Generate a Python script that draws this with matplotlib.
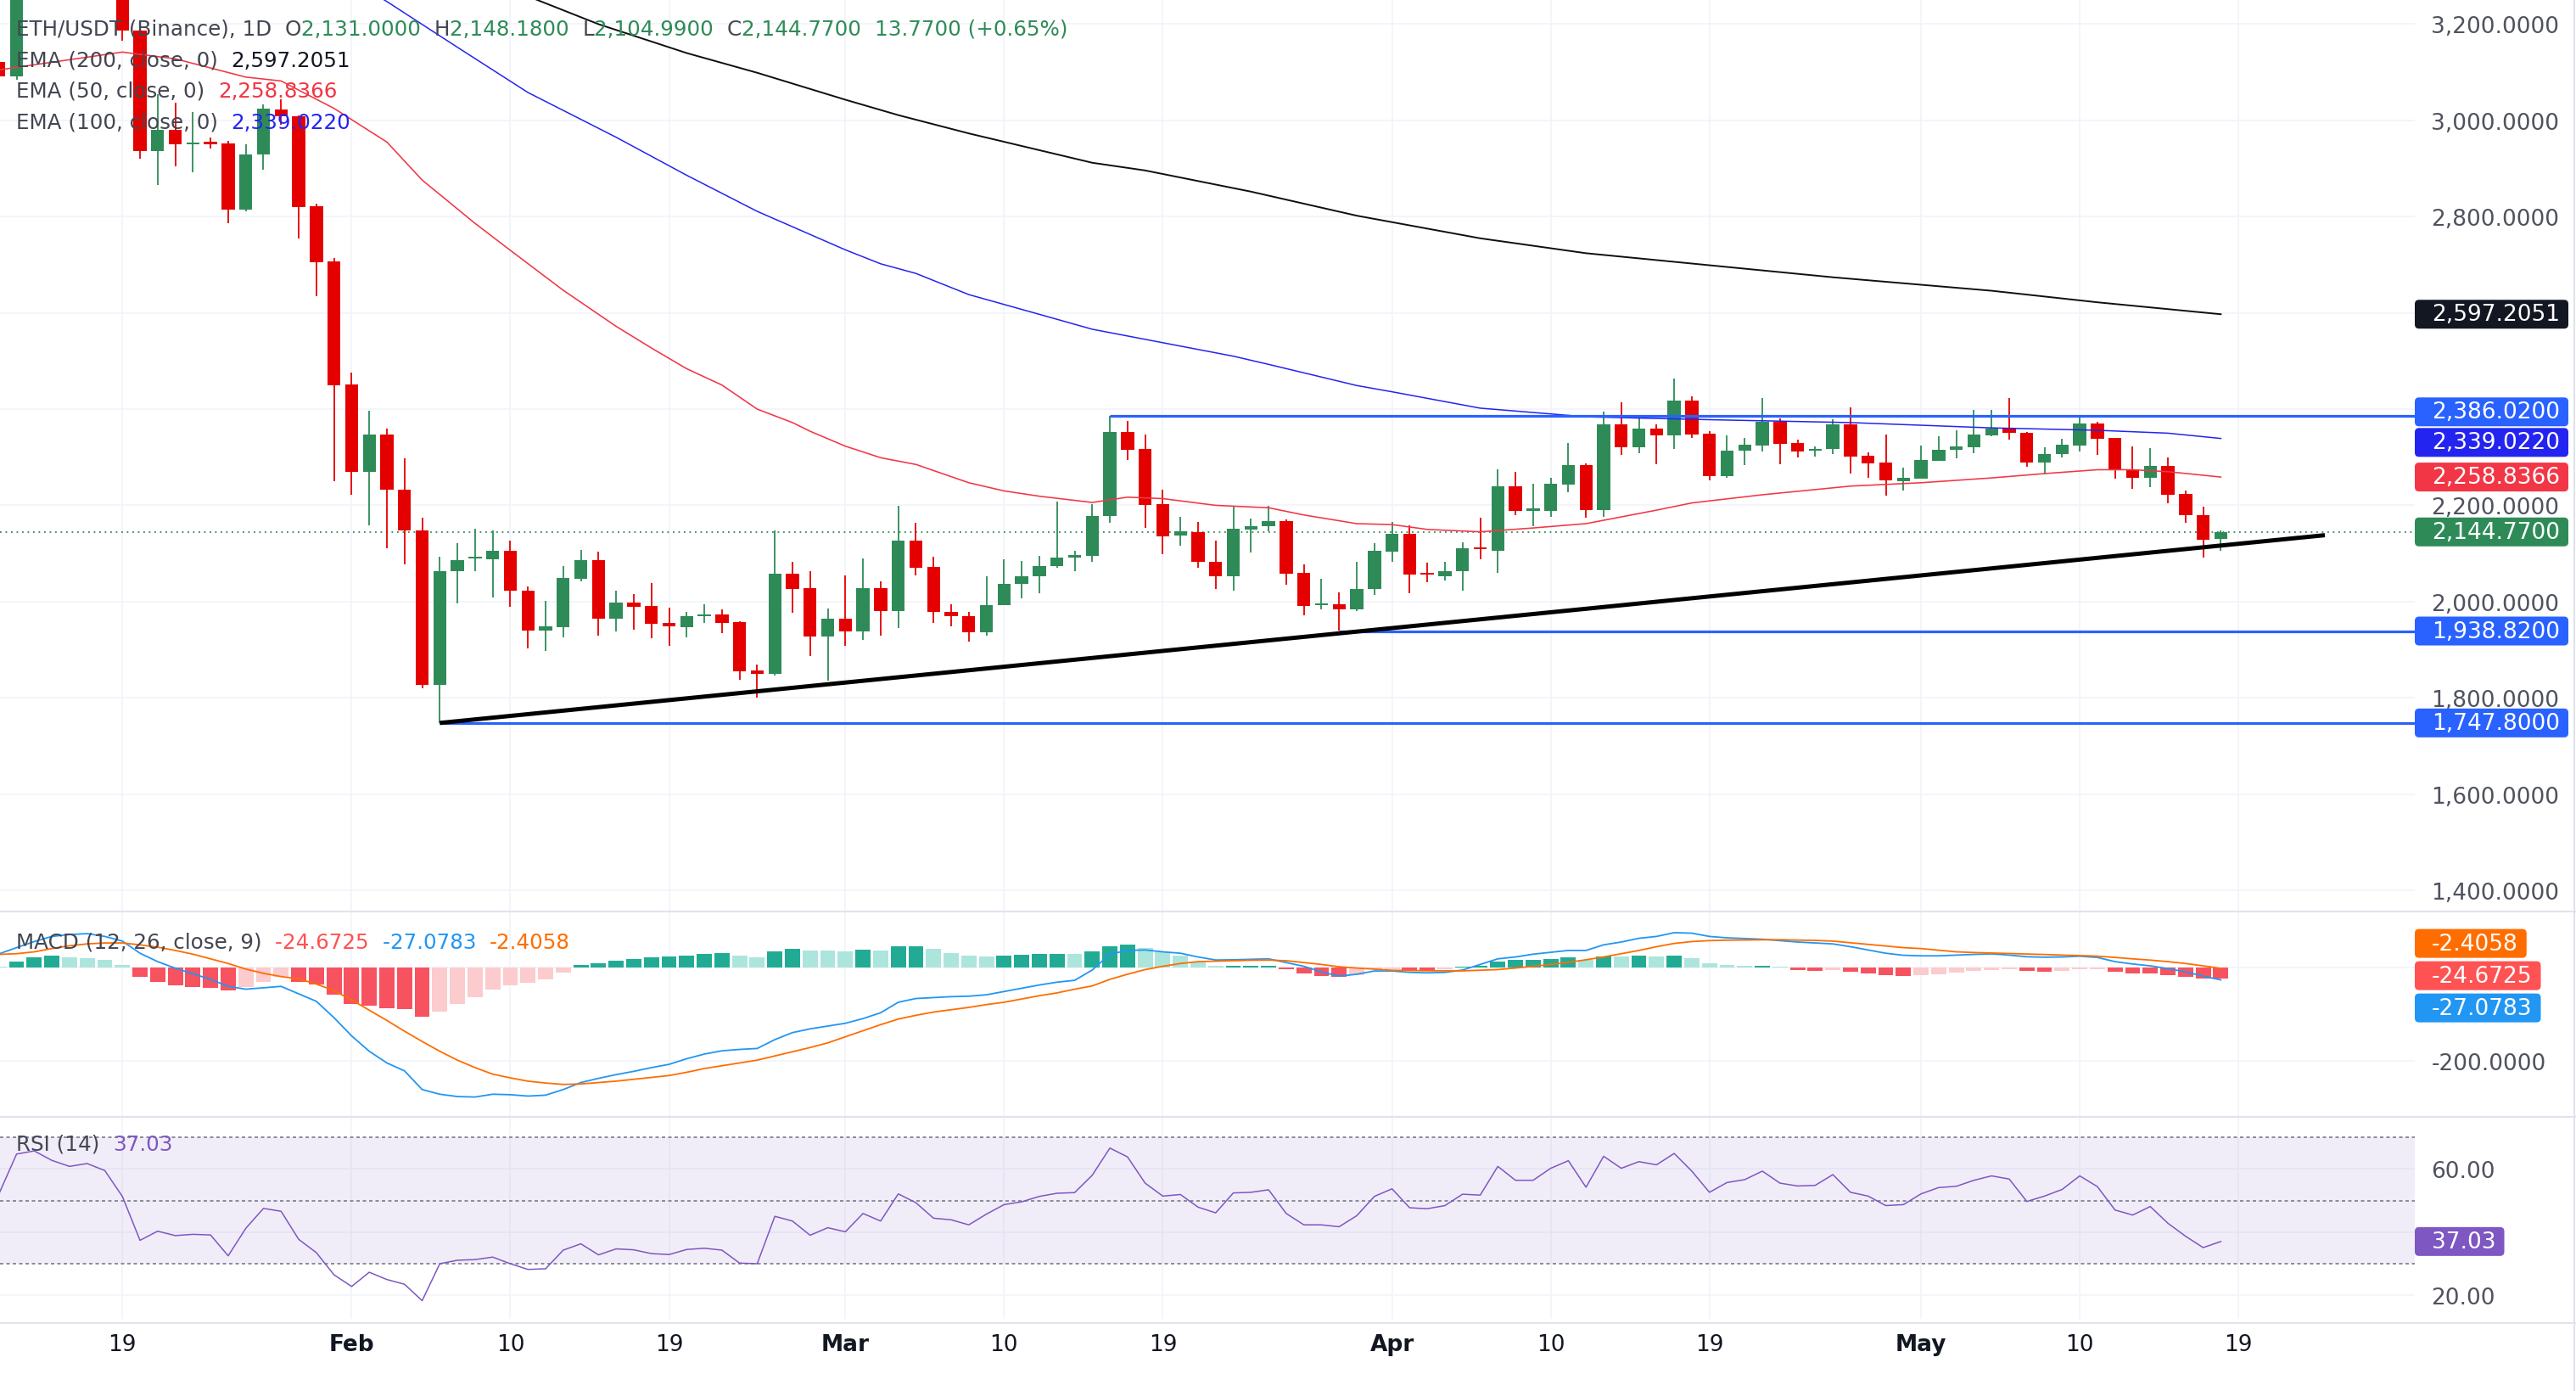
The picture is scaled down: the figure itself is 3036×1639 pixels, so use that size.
import numpy as np
import matplotlib
matplotlib.use("Agg")
import matplotlib.pyplot as plt
import matplotlib.dates as mdates
from matplotlib.patches import FancyBboxPatch
from matplotlib.lines import Line2D
from matplotlib.transforms import IdentityTransform
from matplotlib.ticker import FuncFormatter

# ---------------- data (daily, first candle 2026-01-12) ----------------
start_date = np.datetime64("2026-01-12")

opens = [3121, 3092, 3290, 3335, 3310, 3290, 3305, 3300, 3186, 2936,
         2981, 2950, 2956, 2952, 2815, 2929, 3023, 3009, 2822, 2707,
         2451, 2269, 2347, 2233, 2148, 1827, 2063, 2089, 2088, 2105,
         2023, 1940, 1947, 2048, 2086, 1965, 1998, 1991, 1955, 1947,
         1969, 1973, 1957, 1856, 1850, 2058, 2028, 1928, 1964, 1938,
         2028, 1981, 2127, 2072, 1978, 1969, 1937, 1992, 2036, 2052,
         2073, 2091, 2095, 2177, 2352, 2317, 2202, 2137, 2145, 2083,
         2053, 2150, 2156, 2168, 2059, 1992, 1994, 1983, 2026, 2103,
         2140, 2060, 2053, 2063, 2112, 2105, 2240, 2189, 2189, 2243,
         2284, 2190, 2368, 2321, 2359, 2346, 2418, 2349, 2261, 2313,
         2325, 2374, 2330, 2313, 2318, 2368, 2303, 2289, 2251, 2255,
         2293, 2316, 2321, 2346, 2359, 2350, 2289, 2306, 2325, 2370,
         2340, 2275, 2258, 2282, 2224, 2180, 2131]
highs = [3135, 3330, 3370, 3360, 3330, 3340, 3325, 3315, 3192, 3054,
         3036, 3017, 2965, 2958, 2950, 3033, 3044, 3011, 2827, 2714,
         2476, 2397, 2359, 2297, 2174, 2093, 2121, 2151, 2148, 2126,
         2032, 2001, 2074, 2107, 2103, 2023, 2015, 2039, 1987, 1979,
         1995, 1984, 1959, 1869, 2148, 2082, 2063, 1986, 2055, 2090,
         2042, 2199, 2163, 2093, 1995, 1979, 2053, 2088, 2085, 2095,
         2207, 2105, 2202, 2386, 2375, 2348, 2233, 2176, 2166, 2127,
         2198, 2173, 2199, 2171, 2077, 2047, 2019, 2083, 2122, 2166,
         2158, 2080, 2083, 2123, 2175, 2274, 2269, 2244, 2257, 2330,
         2287, 2395, 2414, 2384, 2368, 2464, 2427, 2354, 2346, 2340,
         2423, 2381, 2337, 2323, 2379, 2403, 2310, 2347, 2278, 2324,
         2343, 2356, 2398, 2398, 2423, 2352, 2321, 2338, 2383, 2374,
         2340, 2322, 2319, 2299, 2231, 2198, 2148.18]
lows = [3080, 3085, 3265, 3280, 3270, 3275, 3280, 3166, 2920, 2865,
        2905, 2892, 2942, 2786, 2811, 2898, 2991, 2754, 2634, 2250,
        2222, 2158, 2110, 2078, 1820, 1748, 1997, 2064, 2009, 1989,
        1903, 1898, 1926, 2042, 1929, 1938, 1942, 1924, 1908, 1925,
        1956, 1935, 1838, 1801, 1847, 1976, 1887, 1836, 1908, 1921,
        1930, 1945, 2055, 1955, 1949, 1916, 1930, 1992, 2006, 2017,
        2071, 2063, 2083, 2164, 2294, 2154, 2099, 2117, 2071, 2027,
        2023, 2102, 2146, 2035, 1972, 1984, 1939, 1981, 2013, 2083,
        2017, 2041, 2044, 2022, 2088, 2059, 2180, 2157, 2176, 2228,
        2175, 2176, 2304, 2308, 2286, 2318, 2340, 2252, 2258, 2284,
        2312, 2286, 2299, 2301, 2307, 2266, 2258, 2221, 2231, 2255,
        2293, 2298, 2309, 2343, 2337, 2280, 2265, 2299, 2312, 2304,
        2255, 2235, 2238, 2205, 2163, 2092, 2104.99]
closes = [3092, 3290, 3335, 3310, 3290, 3305, 3300, 3186, 2936, 2981,
          2950, 2953, 2951, 2815, 2929, 3024, 3009, 2820, 2705, 2449,
          2269, 2347, 2232, 2148, 1827, 2064, 2086, 2093, 2105, 2022,
          1940, 1948, 2049, 2086, 1965, 1998, 1990, 1954, 1948, 1969,
          1973, 1956, 1855, 1850, 2058, 2027, 1928, 1964, 1938, 2028,
          1981, 2127, 2071, 1978, 1969, 1937, 1992, 2036, 2052, 2073,
          2091, 2096, 2178, 2352, 2316, 2201, 2136, 2146, 2083, 2053,
          2151, 2156, 2168, 2058, 1991, 1996, 1983, 2026, 2105, 2140,
          2057, 2056, 2064, 2110, 2109, 2240, 2189, 2192, 2245, 2284,
          2190, 2368, 2321, 2359, 2346, 2418, 2348, 2261, 2313, 2326,
          2374, 2328, 2312, 2318, 2368, 2302, 2288, 2252, 2257, 2294,
          2316, 2322, 2347, 2359, 2350, 2289, 2306, 2326, 2370, 2339,
          2274, 2258, 2282, 2222, 2179, 2129, 2144.77]

# moving averages, read at sample days (day index from first candle)
ema50_idx = [0, 7, 10, 14, 16, 19, 22, 24, 27, 29, 32, 35, 37, 39, 41, 43, 45, 46, 48, 50,
             52, 55, 57, 59, 62, 64, 66, 69, 72, 74, 77, 79, 81, 84, 87, 90, 94, 96, 100, 105,
             109, 113, 116, 119, 121, 123, 126]
ema50_val = [3105, 3142, 3128, 3090, 3082, 3025, 2955, 2876, 2786, 2730, 2647, 2572, 2527, 2484,
             2450, 2400, 2372, 2354, 2323, 2299, 2285, 2247, 2230, 2219, 2206, 2217, 2214, 2200,
             2195, 2180, 2162, 2160, 2150, 2145, 2153, 2162, 2190, 2205, 2222, 2240, 2247, 2257,
             2266, 2274, 2274, 2270, 2258.84]
ema100_idx = [17, 22, 26, 30, 35, 39, 43, 48, 50, 52, 55, 59, 62, 65, 70, 72, 77, 79, 84, 90,
              97, 105, 113, 119, 123, 126]
ema100_val = [3360, 3247, 3152, 3058, 2965, 2886, 2811, 2731, 2702, 2682, 2638, 2597, 2566, 2545,
              2510, 2493, 2449, 2436, 2402, 2384, 2378, 2372, 2361, 2356, 2350, 2339.02]
ema200_idx = [25, 30, 34, 39, 43, 48, 51, 55, 62, 65, 71, 77, 84, 90, 97, 104, 113, 119, 126]
ema200_val = [3335, 3258, 3200, 3140, 3099, 3043, 3011, 2973, 2912, 2896, 2852, 2802, 2755, 2724,
              2699, 2674, 2646, 2622, 2597.21]

# drawings: support levels (value, first day index) and rising trend line
level_val = [2386.02, 1938.82, 1747.80]
level_idx = [63, 76, 25]
trend_idx = [25, 131.9]
trend_val = [1747.8, 2138.0]

# MACD (12, 26, 9), daily values from day index -1
macd_line = [22, 28.6, 42, 55, 66, 70, 72, 66, 56, 30, 12, -2, -14, -26, -41, -47, -44, -41, -57, -73,
             -108, -147, -180, -205, -222, -262, -272, -277, -278, -272, -273, -276, -274, -262, -247,
             -238, -230, -223, -215, -208, -196, -186, -179, -176, -174, -155, -140, -132, -126, -120,
             -110, -97.5, -75, -67, -65, -63, -62, -59, -52, -45, -38, -32, -28, -6, 28, 36, 37, 33, 30,
             22, 15.5, 16, 17, 18, 10, 2, -10, -19, -15, -8, -8, -11, -12, -11, -6, 6, 18, 22, 28, 32,
             36, 36, 48, 54, 62, 66, 74, 73, 66, 63, 61.5, 60, 57, 54, 52, 50, 44, 37, 30, 25.6, 24.5,
             24.4, 26, 27.5, 28.6, 26, 22.5, 21.5, 22, 23.7, 21, 12, 7, 3, -3, -10, -19, -27.0783]
macd_signal = [27, 27.6, 29, 33, 40, 46, 50, 52, 52, 48, 43, 36, 28, 18, 8, -4, -13, -20, -25, -36,
               -50, -70, -92, -114, -137, -159, -180, -199, -215, -229, -237, -244, -248, -251, -250,
               -247, -244, -240, -236, -232, -225, -217, -211, -205, -199, -190, -181, -172, -162, -149,
               -136, -123, -111, -103, -96, -91, -86, -80, -75, -68, -61, -55, -47, -40, -26, -15, -5,
               2, 8, 12, 13, 14, 15, 15.3, 14, 10, 6, 1, -1.7, -4, -6.5, -7, -7.5, -7.7, -7.8, -6.5,
               -5, -1.7, 2, 6, 10.4, 16, 22, 29, 36, 44, 51, 55, 57, 58, 58.5, 58.8, 58.9, 58.3, 57.5,
               55.9, 52.5, 49, 45.5, 42, 40, 36.5, 33, 31.5, 30.5, 29.5, 28.6, 27.3, 26, 25, 23.7, 21,
               18, 15.3, 12, 8, 3, -2.4058]
macd_hist = [6, 1, 13, 22, 24, 21, 19, 15, 5, -20,
             -31, -38, -42, -44, -49, -43, -31, -21, -32, -37,
             -58, -79, -82, -88, -90, -106, -95, -78, -64, -47,
             -38, -33, -26, -11, 5.5, 9, 14.5, 18, 21, 23.6,
             25.5, 28.5, 30.3, 24, 21, 34, 40, 36, 35, 34,
             37.6, 36, 44, 45, 38.8, 30.3, 24, 23, 25.5, 26.7,
             28, 28.8, 28, 34.5, 45.5, 47.9, 41.8, 32, 24, 10.3,
             2.5, 3, 3.3, 3.6, -3.6, -12.7, -18.8, -20, -17, -4.8,
             -4.5, -6, -6.3, -4.2, 1, 3, 12, 15, 16.4, 17.6,
             21, 16.4, 23.8, 23.4, 24.8, 23.6, 24.9, 19.4, 8.5, 5.5,
             3, 3.4, 0.6, -6, -7.9, -6, -9, -13.3, -17, -18.8,
             -17, -15, -10.9, -7.9, -6, -4.8, -7.9, -9.7, -7.9, -4.2,
             -4.0, -9.7, -13.3, -13.5, -17, -20.6, -24, -24.6725]

# RSI (14), one value per candle
rsi = [52.1, 64.7, 65.7, 62.7, 60.8, 61.7, 59.5, 51.3, 37.4, 40.3,
       38.9, 39.3, 39.1, 32.5, 41.2, 47.5, 46.6, 37.7, 33.5, 26.5,
       22.8, 27.3, 25.0, 23.5, 18.3, 30.0, 31.1, 31.3, 32.1, 30.0,
       28.2, 28.4, 34.3, 36.3, 32.8, 34.7, 34.4, 33.2, 32.9, 34.5,
       34.9, 34.3, 30.2, 30.0, 45.0, 43.5, 39.0, 41.4, 40.1, 45.9,
       43.5, 52.1, 49.3, 44.4, 43.9, 42.3, 45.7, 48.7, 49.6, 51.3,
       52.3, 52.5, 58.0, 66.6, 63.8, 55.5, 51.4, 51.9, 47.9, 46.1,
       52.4, 52.6, 53.4, 45.9, 42.3, 42.3, 41.7, 45.2, 51.3, 53.7,
       47.7, 47.4, 48.4, 52.0, 51.7, 60.8, 56.4, 56.4, 60.2, 62.6,
       54.2, 64.0, 60.2, 62.3, 61.3, 64.9, 59.3, 52.6, 55.7, 56.6,
       59.3, 55.5, 54.6, 54.8, 58.2, 52.6, 51.4, 48.4, 48.7, 52.1,
       54.1, 54.5, 56.4, 57.8, 56.8, 49.7, 51.4, 53.5, 57.8, 54.4,
       47.0, 45.4, 48.1, 42.8, 38.7, 35.1, 37.03]

tick_dates = ["2026-01-19", "2026-02-01", "2026-02-10", "2026-02-19", "2026-03-01", "2026-03-10",
              "2026-03-19", "2026-04-01", "2026-04-10", "2026-04-19", "2026-05-01", "2026-05-10",
              "2026-05-19"]
tick_labels = ["19", "Feb", "10", "19", "Mar", "10", "19", "Apr", "10", "19", "May", "10", "19"]

# ---------------- styling ----------------
GREEN = "#2E8B57"
RED = "#E50000"
GRID = "#F0F3FA"
TEXT = "#434651"
SEP = "#E0E3EB"

W, H = 3036, 1640
RIGHT = 2846
fig = plt.figure(figsize=(W / 100, H / 100), dpi=100)
fig.patch.set_facecolor("white")


def pane(top, bottom, share=None):
    ax = fig.add_axes([0, 1 - bottom / H, RIGHT / W, (bottom - top) / H], sharex=share)
    for s in ax.spines.values():
        s.set_visible(False)
    ax.yaxis.tick_right()
    ax.tick_params(axis="both", length=0)
    ax.tick_params(axis="y", pad=14, labelsize=19, labelcolor="#50535E")
    ax.grid(True, color=GRID, lw=1.1)
    ax.set_axisbelow(True)
    return ax


ax1 = pane(0, 1074)
ax2 = pane(1076, 1316, ax1)
ax3 = pane(1318, 1555, ax1)

x0 = mdates.date2num(start_date)
xs = x0 + np.arange(len(opens))
o, h, l, c = map(np.array, (opens, highs, lows, closes))

# ---- price pane ----
cols = np.where(c >= o, GREEN, RED)
ax1.vlines(xs, l, h, colors=cols, lw=1.3, zorder=3)
ax1.bar(xs, np.maximum(np.abs(c - o), 4), bottom=np.minimum(o, c), width=0.74,
        color=cols, lw=0, zorder=4)

ax1.plot(x0 + np.array(ema200_idx), ema200_val, color="#0F0F0F", lw=1.4, zorder=5)
ax1.plot(x0 + np.array(ema100_idx), ema100_val, color="#2424F0", lw=1.1, zorder=5)
ax1.plot(x0 + np.array(ema50_idx), ema50_val, color="#F23645", lw=1.15, zorder=5)

xmin, xmax = x0 + 0.06, x0 + 137.0
for v, s in zip(level_val, level_idx):
    ax1.plot([x0 + s, xmax], [v, v], color="#2962FF", lw=2.3, zorder=6, solid_capstyle="butt")
ax1.plot(x0 + np.array(trend_idx), trend_val, color="black", lw=3.6, zorder=6,
         solid_capstyle="butt")
ax1.axhline(closes[-1], color=GREEN, lw=1.3, ls=(0, (1, 2.6)), zorder=2)

ax1.set_ylim(1357.7, 3252)
ax1.set_yticks(np.arange(1400, 3201, 200))
ax1.yaxis.set_major_formatter(FuncFormatter(lambda v, p: f"{v:,.4f}"))

# ---- MACD pane ----
xh = x0 + np.arange(-1, len(macd_hist) - 1)
hist_cols = []
for k, v in enumerate(macd_hist):
    prev = macd_hist[k - 1] if k > 0 else v
    if v >= 0:
        hist_cols.append("#22AB94" if v > prev else "#ACE5DC")
    else:
        hist_cols.append("#F7525F" if v < prev else "#FCCBCD")
ax2.bar(xh, macd_hist, width=0.86, color=hist_cols, lw=0, zorder=2)
ax2.plot(xh, macd_line, color="#2196F3", lw=1.3, zorder=3)
ax2.plot(xh, macd_signal, color="#FF6D00", lw=1.3, zorder=3)
ax2.set_ylim(-318.7, 117.6)
ax2.set_yticks([-200, 0])
# the zero label sits under the value tags, so it is left blank
ax2.yaxis.set_major_formatter(FuncFormatter(lambda v, p: f"{v:.4f}" if v != 0 else ""))

# ---- RSI pane ----
ax3.axhspan(30, 70, color="#7E57C2", alpha=0.1, lw=0, zorder=1)
for lvl in (70, 50, 30):
    ax3.axhline(lvl, color="#787B86", lw=1.2, ls=(0, (2.4, 2.1)), zorder=2)
ax3.plot(xs, rsi, color="#7E57C2", lw=1.1, zorder=3)
ax3.set_ylim(12.55, 76.2)
ax3.set_yticks([20, 40, 60])
ax3.yaxis.set_major_formatter(FuncFormatter(lambda v, p: f"{v:.2f}" if v != 40 else ""))

# ---- shared x axis ----
ax3.set_xlim(xmin, xmax)
ax3.set_xticks(mdates.date2num(np.array(tick_dates, dtype="datetime64[D]")))
ax3.set_xticklabels(tick_labels)
ax3.tick_params(axis="x", pad=12, labelsize=19, labelcolor="#131722")
for t in ax3.get_xticklabels():
    if not t.get_text().isdigit():
        t.set_fontweight("bold")
ax1.tick_params(labelbottom=False)
ax2.tick_params(labelbottom=False)

# pane separators and border
for yy in (1075, 1317, 1560):
    fig.add_artist(Line2D([0, W], [H - yy, H - yy], transform=IdentityTransform(),
                          color=SEP, lw=1.5))
fig.add_artist(Line2D([W - 2, W - 2], [0, H], transform=IdentityTransform(), color=SEP, lw=1.5))

renderer = fig.canvas.get_renderer()


def legend_row(y, pieces, size=17.7):
    x = 19
    for s, col in pieces:
        t = fig.text(x, H - y, s, color=col, fontsize=size, va="center", ha="left",
                     transform=IdentityTransform(), zorder=7)
        x += t.get_window_extent(renderer).width


legend_row(35, [("ETH/USDT (Binance), 1D  ", TEXT), ("O", TEXT), ("2,131.0000  ", GREEN),
                ("H", TEXT), ("2,148.1800  ", GREEN), ("L", TEXT), ("2,104.9900  ", GREEN),
                ("C", TEXT), ("2,144.7700  ", GREEN), ("13.7700 (+0.65%)", GREEN)])
legend_row(72, [("EMA (200, close, 0)  ", TEXT), ("2,597.2051", "#131722")])
legend_row(108, [("EMA (50, close, 0)  ", TEXT), ("2,258.8366", "#F23645")])
legend_row(145, [("EMA (100, close, 0)  ", TEXT), ("2,339.0220", "#2424F0")])
legend_row(1111, [("MACD (12, 26, close, 9)  ", TEXT), ("-24.6725  ", "#FF5252"),
                  ("-27.0783  ", "#2196F3"), ("-2.4058", "#FF6D00")])
legend_row(1349, [("RSI (14)  ", TEXT), ("37.03", "#7E57C2")])


def axis_tags(ax, items, gap, size=19):
    ys = [H - ax.transData.transform((0, v))[1] for v, _, _ in items]
    order = np.argsort(ys)
    ys = np.array(ys, dtype=float)[order]
    for _ in range(60):
        for k in range(len(ys) - 1):
            d = ys[k + 1] - ys[k]
            if d < gap:
                ys[k] -= (gap - d) / 2
                ys[k + 1] += (gap - d) / 2
    for yy, k in zip(ys, order):
        _, label, col = items[k]
        t = fig.text(RIGHT + 20, H - yy, label, color="white", fontsize=size, va="center",
                     ha="left", transform=IdentityTransform(), zorder=8)
        tw = t.get_window_extent(renderer).width
        box = FancyBboxPatch((RIGHT, H - yy - 17), tw + 30, 34,
                             boxstyle="round,pad=0,rounding_size=5",
                             transform=IdentityTransform(), fc=col, ec="none", zorder=7)
        fig.add_artist(box)


axis_tags(ax1, [(2597.2051, "2,597.2051", "#131722"),
                (2386.02, "2,386.0200", "#2962FF"),
                (2339.022, "2,339.0220", "#2424F0"),
                (2258.8366, "2,258.8366", "#F23645"),
                (2144.77, "2,144.7700", GREEN),
                (1938.82, "1,938.8200", "#2962FF"),
                (1747.80, "1,747.8000", "#2962FF")], gap=36)
axis_tags(ax2, [(-2.4058, "-2.4058", "#FF6D00"),
                (-24.6725, "-24.6725", "#FF5252"),
                (-27.0783, "-27.0783", "#2196F3")], gap=38)
axis_tags(ax3, [(37.03, "37.03", "#7E57C2")], gap=36)

fig.savefig("out.png", dpi=100, facecolor="white")
